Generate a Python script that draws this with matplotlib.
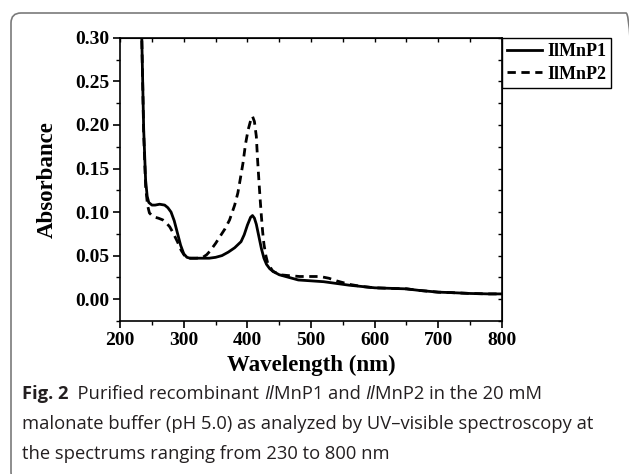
import matplotlib
matplotlib.use("Agg")
import matplotlib.pyplot as plt
from matplotlib.patches import FancyBboxPatch
from matplotlib.ticker import MultipleLocator
from matplotlib.transforms import IdentityTransform

# spectra (wavelength in nm, absorbance)
wl_p1 = [230, 232, 234, 237, 240, 242.5, 245, 250, 255, 262, 270, 275, 280, 285,
         290, 295, 300, 305, 310, 320, 330, 340, 350, 360, 370, 380, 390, 395,
         400, 405, 408, 411, 414, 418, 422, 426, 430, 435, 440, 450, 460, 470,
         480, 500, 520, 540, 560, 580, 600, 620, 650, 670, 700, 720, 750, 780, 800]
abs_p1 = [0.42, 0.35, 0.30, 0.195, 0.137, 0.118, 0.111, 0.108, 0.108, 0.109, 0.108,
          0.105, 0.100, 0.090, 0.076, 0.062, 0.052, 0.048, 0.047, 0.047, 0.047,
          0.047, 0.048, 0.050, 0.054, 0.059, 0.066, 0.074, 0.085, 0.094, 0.096,
          0.093, 0.086, 0.072, 0.058, 0.047, 0.040, 0.035, 0.032, 0.028, 0.026,
          0.024, 0.022, 0.021, 0.020, 0.018, 0.016, 0.0145, 0.013, 0.0125, 0.0118,
          0.010, 0.008, 0.0075, 0.0065, 0.006, 0.006]

wl_p2 = [230, 232, 234, 237, 240, 243, 246, 250, 255, 260, 267, 272, 278, 284,
         290, 296, 302, 310, 320, 330, 336, 341, 350, 357, 365, 372, 380, 385,
         390, 393, 397, 401, 405, 408, 411, 414, 416, 418, 420, 422, 424, 426,
         429, 432, 440, 451, 465, 482, 500, 514, 528, 540, 560, 580, 600, 620,
         650, 670, 700, 720, 750, 780, 800]
abs_p2 = [0.42, 0.35, 0.30, 0.19, 0.13, 0.108, 0.099, 0.096, 0.094, 0.093, 0.091,
          0.088, 0.083, 0.075, 0.066, 0.056, 0.049, 0.047, 0.047, 0.048, 0.051,
          0.055, 0.064, 0.072, 0.081, 0.091, 0.108, 0.122, 0.143, 0.156, 0.178,
          0.194, 0.205, 0.210, 0.204, 0.187, 0.160, 0.137, 0.115, 0.095, 0.077,
          0.063, 0.050, 0.041, 0.032, 0.028, 0.027, 0.026, 0.026, 0.026, 0.024,
          0.021, 0.017, 0.0145, 0.013, 0.0125, 0.0118, 0.010, 0.008, 0.0075,
          0.0065, 0.006, 0.006]

labels = ["IlMnP1", "IlMnP2"]
x_ticks = [200, 300, 400, 500, 600, 700, 800]
y_ticks = [0.00, 0.05, 0.10, 0.15, 0.20, 0.25, 0.30]

# caption lines as (text, style) pieces
caption = [
    [("Fig. 2", "bold"), ("  Purified recombinant ", "normal"), ("Il", "italic"),
     ("MnP1 and ", "normal"), ("Il", "italic"), ("MnP2 in the 20 mM", "normal")],
    [("malonate buffer (pH 5.0) as analyzed by UV\u2013visible spectroscopy at", "normal")],
    [("the spectrums ranging from 230 to 800 nm", "normal")],
]

fig = plt.figure(figsize=(6.29, 4.74), dpi=100)
ax = fig.add_axes([0.191, 0.323, 0.607, 0.597])

serif = {"family": "Liberation Serif", "weight": "bold"}

ax.plot(wl_p1, abs_p1, color="black", lw=2.0, label=labels[0])
ax.plot(wl_p2, abs_p2, color="black", lw=2.0, dashes=(3, 2), label=labels[1])

ax.set_xlim(200, 800)
ax.set_ylim(-0.025, 0.30)
ax.set_xticks(x_ticks)
ax.set_yticks(y_ticks)
ax.set_xticklabels([str(v) for v in x_ticks], fontdict=serif, fontsize=14)
ax.set_yticklabels(["%.2f" % v for v in y_ticks], fontdict=serif, fontsize=14)
ax.xaxis.set_minor_locator(MultipleLocator(50))
ax.yaxis.set_minor_locator(MultipleLocator(0.025))
ax.tick_params(which="major", direction="out", length=5, width=1.2, pad=3)
ax.tick_params(which="minor", direction="out", length=3, width=1.0)
for s in ax.spines.values():
    s.set_linewidth(1.2)

# origin-style inward ticks on top and right
top = ax.secondary_xaxis("top")
top.set_xticks(x_ticks)
top.xaxis.set_minor_locator(MultipleLocator(50))
top.tick_params(which="both", direction="in", length=3, width=1.0, labeltop=False)
right = ax.secondary_yaxis("right")
right.set_yticks(y_ticks)
right.yaxis.set_minor_locator(MultipleLocator(0.025))
right.tick_params(which="both", direction="in", length=3, width=1.0, labelright=False)

ax.set_xlabel("Wavelength (nm)", fontdict=serif, fontsize=16.5, labelpad=4)
ax.set_ylabel("Absorbance", fontdict=serif, fontsize=16.5, labelpad=12)

leg = ax.legend(loc="upper left", bbox_to_anchor=(1.0, 1.0), borderaxespad=0,
                prop={"family": "Liberation Serif", "weight": "bold", "size": 13},
                handlelength=1.9, handletextpad=0.3, labelspacing=0.3,
                borderpad=0.3, fancybox=False, framealpha=1)
leg.get_frame().set_edgecolor("black")
leg.get_frame().set_linewidth(1.0)

# caption, drawn piece by piece so bold / italic parts line up
renderer = fig.canvas.get_renderer()
W = fig.get_figwidth() * fig.dpi
for i, pieces in enumerate(caption):
    x = 22 / 629
    y = 1 - (399 + 30 * i) / 474
    for txt, style in pieces:
        kw = {"weight": "bold"} if style == "bold" else {}
        if style == "italic":
            kw = {"style": "italic"}
        t = fig.text(x, y, txt, family="Open Sans", fontsize=13.2,
                     va="baseline", ha="left", color="#231f20", **kw)
        x = t.get_window_extent(renderer).x1 / W

# rounded frame around the figure (only top and left are visible)
frame = FancyBboxPatch((11, -8), 625, 474 - 13 + 8,
                       boxstyle="round,pad=0,rounding_size=10",
                       transform=IdentityTransform(), fill=False,
                       edgecolor="#7a7a7a", lw=1.2)
fig.patches.append(frame)

fig.savefig("out.png", dpi=100)
